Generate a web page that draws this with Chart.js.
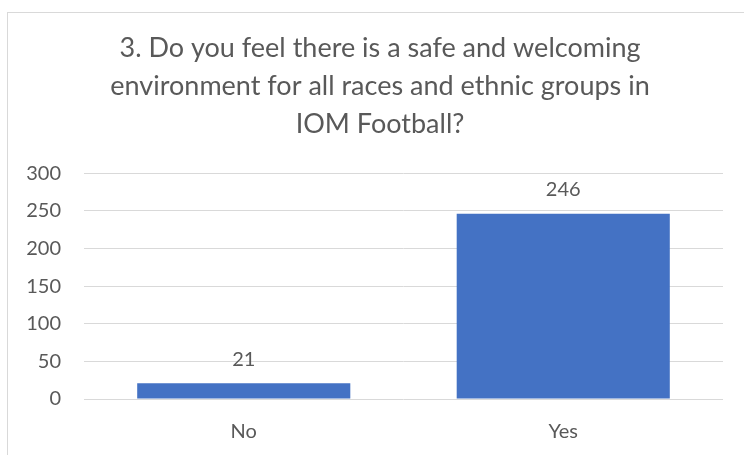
<!DOCTYPE html>
<html>
<head>
<meta charset="utf-8">
<script src="https://cdn.jsdelivr.net/npm/chart.js@4"></script>
<style>
  html, body { margin: 0; padding: 0; background: #fff; }
  #wrap { position: relative; width: 744px; height: 455px; overflow: hidden; }
  #frame {
    position: absolute; left: 7px; top: 12px; width: 800px; height: 500px;
    border: 1px solid #d9d9d9; box-sizing: border-box;
  }
  canvas { position: absolute; left: 0; top: 0; }
</style>
</head>
<body>
<div id="wrap">
  <div id="frame"></div>
  <canvas id="chart" width="760" height="455"></canvas>
</div>
<script>
const titleLines = [
  "3. Do you feel there is a safe and welcoming",
  "environment for all races and ethnic groups in",
  "IOM Football?"
];
const categories = ["No", "Yes"];
const answers = [21, 246];
const yTicks = [0, 50, 100, 150, 200, 250, 300];

const textColor = "#595959";
const fontFamily = "Lato, 'Open Sans', sans-serif";

// value printed above each bar
const valueLabels = {
  id: "valueLabels",
  afterDatasetsDraw(chart) {
    const ctx = chart.ctx;
    const meta = chart.getDatasetMeta(0);
    ctx.save();
    ctx.font = "20px " + fontFamily;
    ctx.fillStyle = textColor;
    ctx.textAlign = "center";
    ctx.textBaseline = "middle";
    meta.data.forEach((bar, i) => {
      ctx.fillText(String(chart.data.datasets[0].data[i]), bar.x, bar.y - 24);
    });
    ctx.restore();
  }
};

new Chart(document.getElementById("chart"), {
  type: "bar",
  data: {
    labels: categories,
    datasets: [{
      data: answers,
      backgroundColor: "#4472C4",
      borderWidth: 0,
      categoryPercentage: 1,
      barPercentage: 0.667
    }]
  },
  options: {
    responsive: false,
    animation: false,
    layout: { padding: 0 },
    plugins: {
      legend: { display: false },
      tooltip: { enabled: false },
      title: {
        display: true,
        text: titleLines,
        color: textColor,
        font: { family: fontFamily, size: 27, weight: "normal", lineHeight: 1.41 },
        padding: { top: 29, bottom: 30 }
      }
    },
    scales: {
      x: {
        grid: { display: false, drawTicks: false },
        border: { display: false },
        ticks: { color: textColor, font: { family: fontFamily, size: 20 }, padding: 21 },
        afterFit(scale) { scale.height = 56; }
      },
      y: {
        min: 0,
        max: 300,
        afterBuildTicks(scale) { scale.ticks = yTicks.map(v => ({ value: v })); },
        grid: { color: "#d9d9d9", lineWidth: 1, drawTicks: false },
        border: { display: false },
        ticks: { color: textColor, font: { family: fontFamily, size: 20 }, padding: 23 },
        afterFit(scale) { scale.width = 84; }
      },
      // empty right-hand margin of the plot
      yRight: {
        position: "right",
        display: true,
        grid: { display: false, drawTicks: false },
        border: { display: false },
        ticks: { display: false },
        afterFit(scale) { scale.width = 37; }
      }
    }
  },
  plugins: [valueLabels]
});
</script>
</body>
</html>
